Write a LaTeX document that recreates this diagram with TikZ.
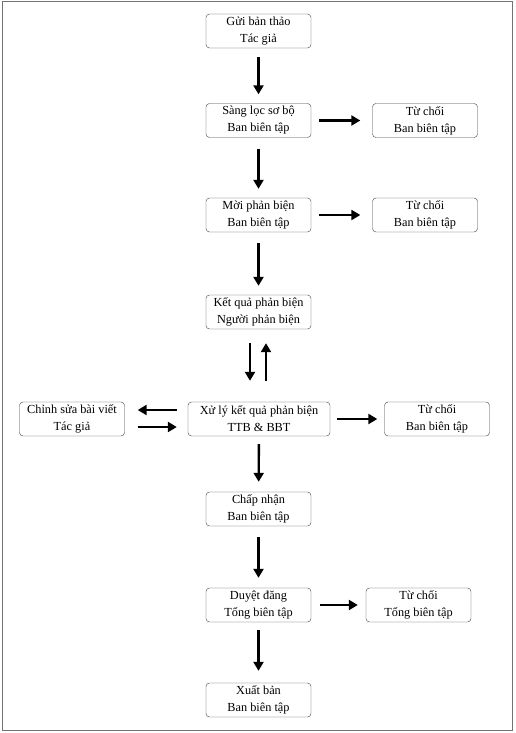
\documentclass[tikz,border=0pt]{standalone}
\usepackage{fontspec}
\setmainfont{Liberation Serif}
\usetikzlibrary{arrows.meta}

\begin{document}
\begin{tikzpicture}[x=1pt, y=-1pt,
        stage/.style={draw=black!75, rounded corners=3.5pt, minimum width=105, minimum height=34, align=center, inner sep=1pt, font=\fontsize{12.3}{17}\selectfont},
        flow/.style={-{Triangle[length=9pt, width=10pt]}, line width=2.4pt}]
        \useasboundingbox (0, 0) rectangle (515, 733);
        \draw[black!55, line width=1pt] (2, 1.5) rectangle (512.5, 730.5);

        \node[stage]                    (submit)   at (258.5,  31) {Gửi bản thảo\\Tác giả};
        \node[stage]                    (screen)   at (258.5, 120.5) {Sàng lọc sơ bộ\\Ban biên tập};
        \node[stage]                    (reject1)  at (425,   120.5) {Từ chối\\Ban biên tập};
        \node[stage]                    (invite)   at (258.5, 215) {Mời phản biện\\Ban biên tập};
        \node[stage]                    (reject2)  at (425,   215) {Từ chối\\Ban biên tập};
        \node[stage]                    (result)   at (258.5, 312) {Kết quả phản biện\\Người phản biện};
        \node[stage, minimum width=142] (process)  at (259,   419) {Xử lý kết quả phản biện\\TTB \& BBT};
        \node[stage]                    (revise)   at (72,    419) {Chỉnh sửa bài viết\\Tác giả};
        \node[stage]                    (reject3)  at (437,   419) {Từ chối\\Ban biên tập};
        \node[stage]                    (accept)   at (258.5, 509) {Chấp nhận\\Ban biên tập};
        \node[stage]                    (approve)  at (258.5, 605) {Duyệt đăng\\Tổng biên tập};
        \node[stage]                    (reject4)  at (418.5, 605) {Từ chối\\Tổng biên tập};
        \node[stage]                    (publish)  at (258.5, 700) {Xuất bản\\Ban biên tập};

        % main line
        \draw[flow, shorten <=9pt, shorten >=9pt]   (submit) -- (screen);
        \draw[flow, shorten <=11pt, shorten >=9pt]  (screen) -- (invite);
        \draw[flow, shorten <=11pt, shorten >=9pt]  (invite) -- (result);
        \draw[flow, shorten <=14pt, shorten >=21pt] ([xshift=-8.5]result.south) -- ([xshift=-9]process.north);
        \draw[flow, shorten <=21pt, shorten >=14pt] ([xshift=7]process.north) -- ([xshift=7.5]result.south);
        \draw[flow, shorten <=8pt, shorten >=10pt]  (process) -- (accept);
        \draw[flow, shorten <=11pt, shorten >=10pt] (accept) -- (approve);
        \draw[flow, shorten <=8pt, shorten >=12pt]  (approve) -- (publish);

        % side branches
        \draw[flow, shorten <=8pt, shorten >=12pt]  (screen) -- (reject1);
        \draw[flow, shorten <=8pt, shorten >=12pt]  (invite) -- (reject2);
        \draw[flow, shorten <=7pt, shorten >=7pt]   (process) -- (reject3);
        \draw[flow, shorten <=9pt, shorten >=8pt]   (approve) -- (reject4);
        \draw[flow, shorten <=11pt, shorten >=13pt] ([yshift=9]process.west) -- ([yshift=9]revise.east);
        \draw[flow, shorten <=13pt, shorten >=11pt] ([yshift=-8]revise.east) -- ([yshift=-8]process.west);
\end{tikzpicture}
\end{document}
